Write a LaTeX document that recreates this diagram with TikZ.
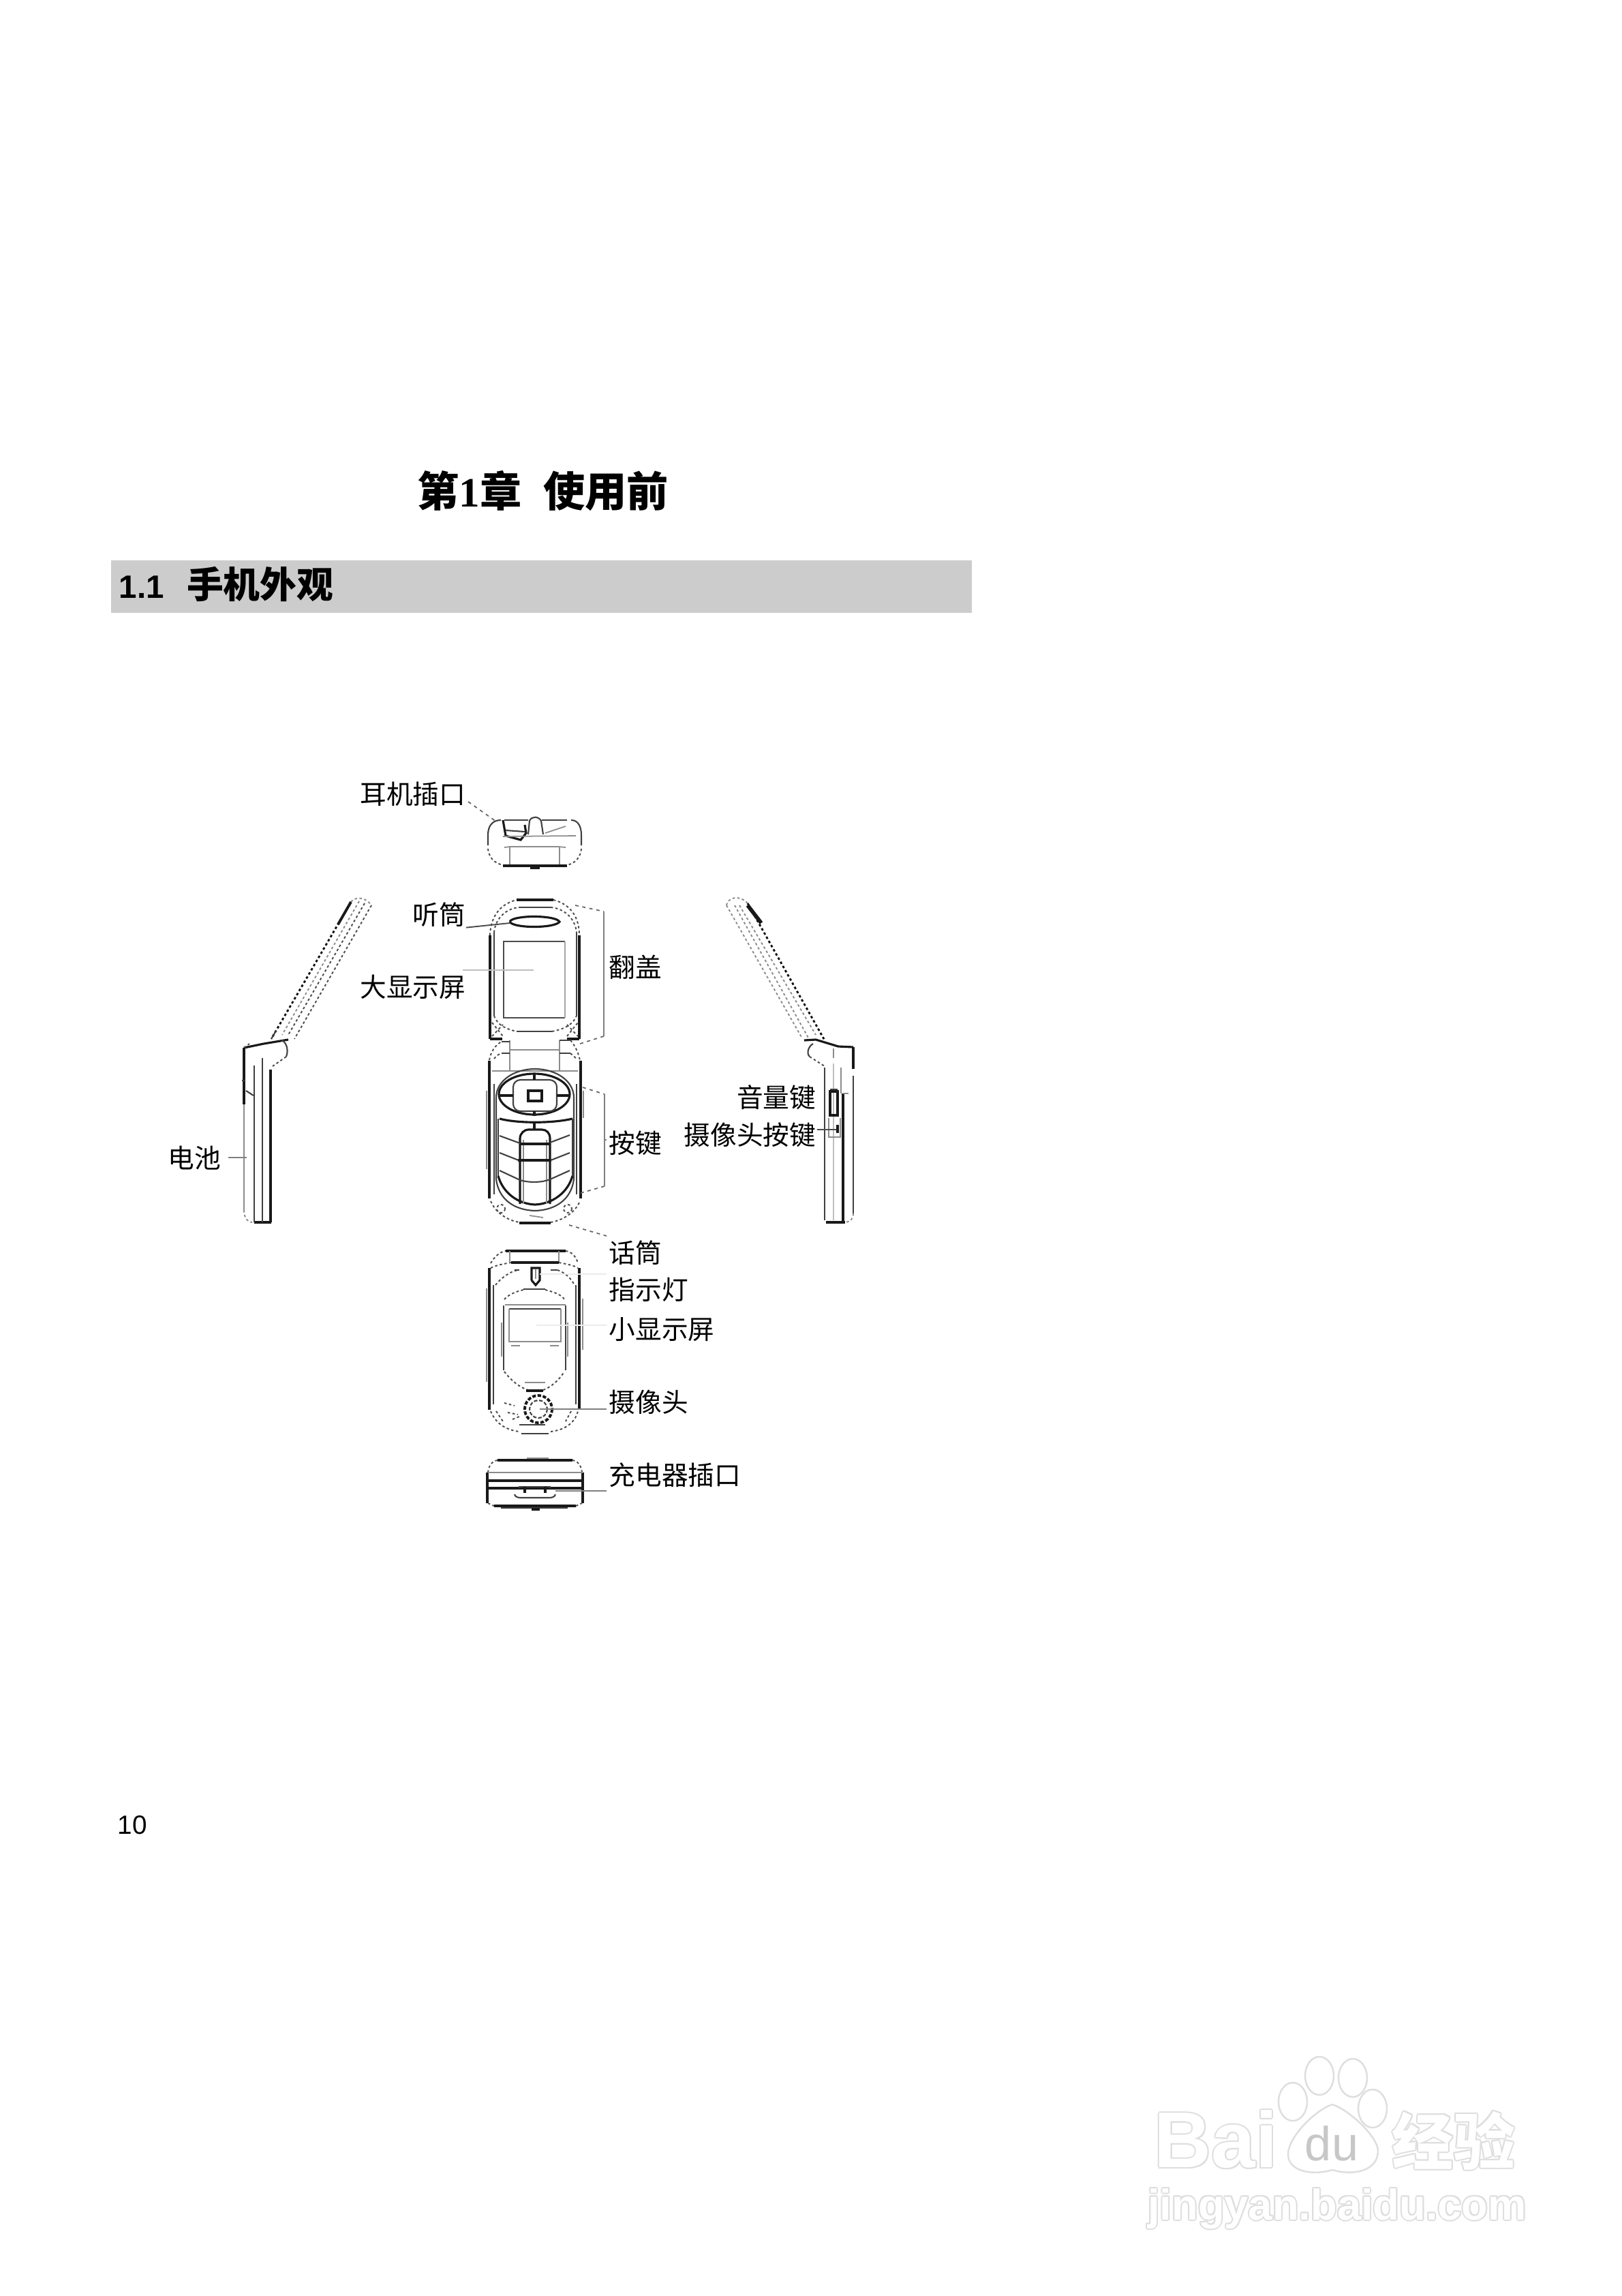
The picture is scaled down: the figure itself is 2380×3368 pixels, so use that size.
\documentclass[tikz,border=0pt]{standalone}
\usepackage{fontspec}
\setmainfont{Liberation Sans}
\newfontfamily\cjk{Noto Sans CJK SC}
\newfontfamily\serifnum{Liberation Serif}
\tikzset{
  lbl/.style={inner sep=0pt, font=\cjk\fontsize{11pt}{12pt}\selectfont},
  heavy/.style={line width=0.9pt, black!90},
  body/.style={line width=0.6pt, black!75},
  soft/.style={line width=0.5pt, black!45},
  pix/.style={line width=0.55pt, black!70, dash pattern=on 1pt off 1pt},
  lead/.style={line width=0.55pt, black!50},
  faint/.style={line width=0.4pt, black!8},
  leaddash/.style={line width=0.5pt, black!60, dash pattern=on 1.4pt off 1.6pt},
  paw/.style={line width=0.7pt, black!13},
}
\newcommand{\wmtext}[4]{% name, position, font, text
  \foreach \dx/\dy in {-2/0,2/0,0/-2,0/2,-1.5/-1.5,1.5/1.5,-1.5/1.5,1.5/-1.5}
    \node[inner sep=0pt, text=black!13, font=#3] (#1a) at ($(#2)+(\dx,\dy)$) {#4};
  \node[inner sep=0pt, text=white, font=#3] (#1) at (#2) {#4};
}
\usetikzlibrary{calc}
\begin{document}
\begin{tikzpicture}[x=0.01cm, y=-0.01cm]
  \useasboundingbox (0,0) rectangle (2380,3368);

  % 标题
  \node[inner sep=0pt, anchor=west, font=\cjk\bfseries\fontsize{17.4pt}{20pt}\selectfont] (chaptitle) at (612,720)
    {第{\serifnum 1}章\hspace{9pt}使用前};
  \fill[black!20] (163,822) rectangle (1426,899);
  \node[inner sep=0pt, anchor=west, font=\bfseries\fontsize{13.5pt}{18pt}\selectfont] (sectitle) at (174,857)
    {1.1\hspace{9.5pt}{\cjk\fontsize{15.3pt}{18pt}\selectfont 手机外观}};
  \node[inner sep=0pt, anchor=west, font=\fontsize{11pt}{13pt}\selectfont] (pagenum) at (172,2677) {10};

  % 顶端（耳机插口）
  \draw[body] (716,1240) -- (716,1225) .. controls (716,1212) and (722,1203) .. (735,1203);
  \draw[body] (853,1240) -- (853,1225) .. controls (853,1212) and (848,1203) .. (838,1203);
  \draw[pix] (716,1245) .. controls (718,1262) and (730,1269) .. (745,1270);
  \draw[pix] (853,1245) .. controls (851,1262) and (840,1269) .. (825,1270);
  \draw[heavy] (738,1270) -- (832,1270);
  \draw[body] (740,1203) -- (775,1203) (795,1203) -- (832,1203);
  \draw[body] (775,1224) -- (777,1204) .. controls (780,1197) and (790,1197) .. (794,1204) -- (797,1224);
  \draw[heavy] (738,1203) -- (742,1226) -- (764,1232) -- (772,1222) -- (770,1210);
  \draw[body] (742,1218) -- (770,1220);
  \draw[soft] (800,1222) -- (830,1212);
  \draw[soft] (738,1227) -- (845,1226);
  \draw[soft] (740,1243) -- (748,1242) -- (820,1242) -- (830,1243);
  \draw[soft] (748,1242) -- (748,1268) (821,1242) -- (821,1268);
  \draw[heavy] (778,1273) -- (792,1273);

  % 翻盖
  \draw[heavy] (719,1524) -- (719,1372);
  \draw[pix] (719,1372) .. controls (720,1340) and (738,1325) .. (758,1320);
  \draw[heavy, line width=1.3pt] (758,1320) -- (812,1320);
  \draw[pix] (812,1320) .. controls (832,1325) and (850,1340) .. (850,1372);
  \draw[heavy] (850,1372) -- (850,1524);
  \draw[body] (725,1490) -- (725,1368);
  \draw[pix] (725,1368) .. controls (727,1345) and (745,1332) .. (762,1331);
  \draw[body] (762,1331) -- (808,1331);
  \draw[pix] (808,1331) .. controls (825,1332) and (844,1345) .. (846,1368);
  \draw[body] (846,1368) -- (846,1490);
  \draw[heavy] (748,1352) .. controls (752,1342) and (815,1342) .. (821,1352) .. controls (815,1362) and (752,1362) .. (748,1352);
  \draw[line width=0.8pt, black!70] (829,1381) -- (739,1381) -- (739,1493) -- (829,1493);
  \draw[soft, black!35] (829,1381) -- (829,1493);
  \draw[pix] (725,1490) .. controls (730,1505) and (745,1510) .. (758,1513);
  \draw[body] (758,1513) -- (810,1513);
  \draw[pix] (810,1513) .. controls (825,1510) and (840,1505) .. (846,1490);
  \draw[pix] (722,1500) -- (738,1520) (722,1520) -- (738,1503) (832,1520) -- (848,1500) (832,1503) -- (848,1520);
  \draw[heavy] (719,1524) -- (737,1524) (832,1524) -- (850,1524);

  % 铰链
  \draw[soft] (748,1526) -- (748,1570) (821,1526) -- (821,1570);
  \draw[soft] (748,1540) -- (821,1540);
  \draw[pix] (718,1555) .. controls (720,1542) and (728,1532) .. (736,1528);
  \draw[body] (736,1528) -- (748,1528) (821,1526) -- (837,1526);
  \draw[pix] (837,1526) .. controls (843,1533) and (848,1542) .. (851,1555);
  \draw[pix] (725,1553) .. controls (728,1549) and (732,1546) .. (736,1545);
  \draw[body] (736,1545) -- (748,1545) (821,1545) -- (837,1545);
  \draw[pix] (837,1545) -- (846,1553);

  % 键盘部分
  \draw[heavy, line width=1.2pt] (718,1556) -- (718,1758) (852,1556) -- (852,1758);
  \draw[soft] (714,1600) -- (714,1715) (856,1600) -- (856,1640);
  \draw[body] (725,1590) -- (725,1752) (846,1590) -- (846,1752);
  \draw[soft] (722,1571) -- (848,1571);
  \draw[pix] (720,1762) .. controls (728,1780) and (745,1790) .. (762,1793);
  \draw[heavy, line width=1.1pt] (762,1794) -- (808,1794);
  \draw[pix] (808,1793) .. controls (825,1790) and (843,1780) .. (851,1762);
  \draw[body] (728,1730) -- (728,1610) .. controls (728,1585) and (755,1568) .. (785,1568) .. controls (815,1568) and (842,1585) .. (842,1610) -- (842,1730);
  \draw[body] (728,1730) .. controls (732,1760) and (755,1775) .. (785,1776) .. controls (815,1775) and (838,1760) .. (842,1730);
  \draw[heavy] (784,1605) ellipse [x radius=52, y radius=30];
  \draw[body, rounded corners=3pt] (753,1584) rectangle (817,1630);
  \draw[heavy, line width=1.2pt] (775,1600) rectangle (795,1615);
  \draw[heavy] (733,1607) -- (753,1607) (817,1607) -- (837,1607);
  \draw[heavy] (784,1576) -- (784,1584) (784,1630) -- (784,1637);
  % 数字键
  \draw[heavy] (733,1641) .. controls (760,1648) and (810,1648) .. (840,1641);
  \draw[body] (731,1641) -- (731,1725) (840,1641) -- (840,1725);
  \draw[heavy] (731,1725) .. controls (738,1750) and (760,1766) .. (785,1767) .. controls (810,1766) and (833,1750) .. (840,1725);
  \draw[heavy] (784,1647) -- (784,1657);
  \draw[heavy] (763,1766) -- (763,1670) .. controls (763,1662) and (770,1657) .. (775,1657) -- (795,1657) .. controls (802,1657) and (807,1662) .. (807,1670) -- (807,1766);
  \draw[soft] (768,1766) -- (768,1672) (802,1766) -- (802,1672);
  \draw[heavy] (763,1678) -- (807,1678);
  \draw[heavy, line width=1.1pt] (760,1702) -- (809,1702);
  \draw[body] (733,1666) -- (763,1677) (807,1676) -- (836,1665);
  \draw[body] (733,1691) -- (761,1702) (808,1702) -- (836,1691);
  \draw[body] (733,1717) -- (763,1731) .. controls (775,1735) and (795,1735) .. (807,1730) -- (836,1717);
  \draw[pix] (735,1773) circle [radius=6] (833,1773) circle [radius=6];
  \draw[soft] (777,1783) -- (797,1786);

  % 背面
  \draw[pix] (720,1853) .. controls (726,1842) and (735,1836) .. (742,1835);
  \draw[heavy] (742,1835) -- (830,1835);
  \draw[pix] (830,1835) .. controls (838,1836) and (845,1842) .. (848,1853);
  \draw[soft] (748,1835) -- (748,1851) (820,1835) -- (820,1851);
  \draw[pix] (720,1860) .. controls (728,1856) and (738,1854) .. (750,1852);
  \draw[heavy] (750,1852) -- (820,1852);
  \draw[pix] (820,1852) .. controls (830,1854) and (842,1856) .. (848,1860);
  \draw[heavy, line width=1pt] (718,1860) -- (718,2068) (850,1860) -- (850,2068);
  \draw[soft] (714,1890) -- (714,2027) (855,1905) -- (855,1980);
  \draw[body] (724,1885) -- (724,2060) (845,1885) -- (845,2060);
  \draw[pix] (727,1885) .. controls (735,1875) and (748,1865) .. (760,1863);
  \draw[body] (755,1863) -- (762,1863) (808,1863) -- (818,1863);
  \draw[pix] (818,1863) .. controls (828,1866) and (838,1875) .. (843,1885);
  \draw[heavy] (780,1878) -- (780,1860) -- (792,1860) -- (792,1878) -- (786,1885) -- (780,1878);
  \draw[soft] (786,1862) -- (786,1876);
  \draw[pix] (740,1906) .. controls (745,1900) and (755,1895) .. (768,1892);
  \draw[body] (768,1891) -- (800,1891);
  \draw[pix] (800,1892) .. controls (813,1895) and (825,1900) .. (828,1906);
  \draw[body] (739,1915) -- (739,2010) (830,1915) -- (830,2010);
  \draw[soft] (736,1940) -- (736,1990) (833,1940) -- (833,1990);
  \draw[soft] (741,1914) -- (830,1914);
  \draw[body] (747,1920) -- (823,1920);
  \draw[soft] (747,1920) -- (747,1968) -- (823,1968) -- (823,1920);
  \draw[soft] (750,1974) -- (763,1974) (807,1974) -- (820,1974);
  \draw[pix] (740,2012) .. controls (750,2025) and (762,2035) .. (775,2039);
  \draw[heavy] (772,2040) -- (797,2040);
  \draw[pix] (797,2039) .. controls (808,2035) and (820,2025) .. (828,2012);
  \draw[soft] (770,2028) -- (800,2028);
  \draw[heavy, line width=1.1pt, dash pattern=on 1.5pt off 0.7pt] (790,2067) circle [radius=20];
  \draw[body, dash pattern=on 1.5pt off 0.7pt] (790,2067) circle [radius=13];
  \draw[pix] (740,2058) -- (755,2062) (745,2072) -- (760,2075) (752,2082) -- (762,2078);
  \draw[pix] (720,2070) .. controls (728,2090) and (745,2098) .. (762,2100);
  \draw[body] (765,2103) -- (805,2103);
  \draw[pix] (808,2100) .. controls (825,2098) and (843,2090) .. (848,2070);
  \draw[pix] (728,2070) -- (738,2085) (838,2070) -- (830,2085);
  \draw[body] (762,2090) -- (800,2090);

  % 底端（充电器插口）
  \draw[pix] (716,2160) .. controls (717,2150) and (722,2143) .. (730,2142);
  \draw[heavy] (730,2142) -- (840,2142);
  \draw[pix] (840,2142) .. controls (848,2143) and (853,2150) .. (854,2160);
  \draw[soft] (773,2139) -- (805,2139);
  \draw[heavy] (715,2160) -- (715,2205) (855,2160) -- (855,2205);
  \draw[soft] (716,2160) -- (855,2160);
  \draw[heavy] (716,2172) -- (855,2172);
  \draw[heavy] (716,2183) -- (855,2183);
  \draw[body] (762,2183) -- (762,2181) -- (807,2181) -- (807,2183);
  \draw[body] (755,2192) .. controls (756,2196) and (760,2197) .. (765,2197) -- (805,2197) .. controls (810,2197) and (814,2196) .. (815,2192);
  \draw[heavy] (770,2181) -- (770,2190) (800,2181) -- (800,2190);
  \draw[pix] (716,2205) -- (725,2209);
  \draw[heavy] (725,2209) -- (845,2209);
  \draw[pix] (845,2209) -- (854,2205);
  \draw[body] (735,2212) -- (833,2212);
  \draw[heavy] (780,2214) -- (792,2214);

  % 左侧面
  \draw[pix, black!95, line width=0.8pt] (515,1323) -- (398,1524);
  \draw[heavy, line width=1.1pt] (515,1323) -- (496,1356);
  \draw[body] (398,1524) -- (405,1512);
  \draw[pix] (535,1325) -- (423,1518);
  \draw[pix, black!45] (527,1322) -- (414,1518);
  \draw[pix] (545,1328) -- (432,1524);
  \draw[pix, black!45] (515,1323) .. controls (520,1316) and (535,1314) .. (545,1328);
  \draw[heavy] (358,1537) -- (387,1531) -- (423,1525);
  \draw[pix] (358,1537) -- (366,1531);
  \draw[body] (413,1526) .. controls (420,1528) and (424,1540) .. (420,1550);
  \draw[pix] (420,1550) -- (400,1564);
  \draw[heavy] (358,1537) -- (358,1620);
  \draw[soft] (358,1620) -- (358,1775);
  \draw[pix, black!45] (358,1775) .. controls (358,1785) and (362,1792) .. (370,1793);
  \draw[heavy] (373,1793) -- (398,1793);
  \draw[heavy, line width=1.1pt] (397,1569) -- (397,1793);
  \draw[body] (373,1563) -- (373,1793);
  \draw[body] (385,1552) -- (385,1793);
  \draw[body] (355,1585) -- (359,1585) (361,1600) -- (372,1607);

  % 右侧面
  \draw[pix, black!95, line width=0.8pt] (1097,1325) -- (1210,1526);
  \draw[heavy, line width=1.6pt] (1097,1328) -- (1117,1354);
  \draw[pix, black!45] (1066,1328) -- (1177,1523);
  \draw[pix, black!45] (1078,1328) -- (1187,1524);
  \draw[pix, black!45] (1085,1328) -- (1197,1518);
  \draw[pix, black!45] (1066,1328) .. controls (1068,1316) and (1085,1312) .. (1097,1325);
  \draw[heavy] (1180,1526) -- (1197,1525) -- (1230,1535) -- (1252,1536);
  \draw[body] (1193,1531) .. controls (1186,1535) and (1183,1545) .. (1188,1550);
  \draw[pix] (1188,1550) -- (1210,1564);
  \draw[heavy, line width=1.4pt] (1252,1536) -- (1252,1568);
  \draw[body] (1252,1578) -- (1252,1780);
  \draw[pix, black!45] (1252,1780) .. controls (1252,1788) and (1248,1792) .. (1240,1793);
  \draw[heavy] (1212,1793) -- (1240,1793);
  \draw[body] (1210,1566) -- (1210,1790);
  \draw[soft, black!25] (1223,1560) -- (1223,1790);
  \draw[soft] (1223,1538) -- (1223,1552);
  \draw[soft] (1234,1566) -- (1234,1604);
  \draw[heavy, line width=1.1pt] (1237,1604) -- (1237,1793);
  \draw[heavy, line width=1.1pt] (1218,1601) rectangle (1229,1636);
  \draw[body] (1229,1598) -- (1218,1598);
  \draw[soft] (1216,1640) -- (1216,1668) -- (1233,1668) -- (1233,1640);
  \draw[heavy, line width=1.1pt] (1229,1650) -- (1229,1662);
  \draw[soft] (1237,1604) -- (1245,1604);

  % 引出线
  \coordinate (earend) at (728,1205);
  \coordinate (recvend) at (748,1354);
  \coordinate (bigend) at (783,1423);
  \coordinate (battend) at (362,1698);
  \coordinate (ledend) at (792,1869);
  \coordinate (smallend) at (787,1944);
  \coordinate (camend) at (792,2067);
  \coordinate (chgend) at (815,2187);
  \coordinate (micend) at (835,1797);
  \coordinate (volend) at (1227,1657);
  \coordinate (lida) at (844,1328);
  \coordinate (lidb) at (886,1337);
  \coordinate (lidc) at (886,1520);
  \coordinate (lidd) at (848,1532);
  \coordinate (keya) at (855,1595);
  \coordinate (keyb) at (887,1605);
  \coordinate (keyc) at (887,1740);
  \coordinate (keyd) at (852,1750);

  % 标注
  \node[lbl, anchor=east] (earlbl) at (684,1165) {耳机插口};
  \node[lbl, anchor=east] (recvlbl) at (684,1342) {听筒};
  \node[lbl, anchor=east] (biglbl) at (684,1448) {大显示屏};
  \node[lbl, anchor=west] (lidlbl) at (893,1419) {翻盖};
  \node[lbl, anchor=west] (keylbl) at (893,1677) {按键};
  \node[lbl, anchor=east] (vollbl) at (1198,1610) {音量键};
  \node[lbl, anchor=east] (cambtn) at (1198,1665) {摄像头按键};
  \node[lbl, anchor=east] (battlbl) at (325,1699) {电池};
  \node[lbl, anchor=west] (miclbl) at (893,1838) {话筒};
  \node[lbl, anchor=west] (ledlbl) at (893,1892) {指示灯};
  \node[lbl, anchor=west] (smalllbl) at (893,1950) {小显示屏};
  \node[lbl, anchor=west] (camlbl) at (893,2057) {摄像头};
  \node[lbl, anchor=west] (chglbl) at (893,2164) {充电器插口};

  \draw[leaddash] (earlbl.east) ++(3,11) -- (earend);
  \draw[lead, black!70] (recvlbl.south east) -- (recvend);
  \draw[faint, black!25] (679,1423) -- (bigend);
  \draw[lead] (battlbl.east) ++(10,-1) -- (battend);
  \draw[faint] (ledend) -- (890,1869);
  \draw[faint] (smallend) -- (890,1944);
  \draw[lead] (camend) -- (890,2067);
  \draw[lead] (chgend) -- (890,2187);
  \draw[leaddash] (micend) -- (890,1813);
  \draw[lead, black!70] (cambtn.east) ++(1,-8) -- (volend);
  \draw[leaddash] (lida) -- (lidb);
  \draw[lead] (lidb) -- (lidc);
  \draw[leaddash] (lidc) -- (lidd);
  \draw[leaddash] (keya) -- (keyb);
  \draw[lead] (keyb) -- (keyc);
  \draw[leaddash] (keyc) -- (keyd);
  \draw[lead] (887,1672) -- (890,1672);

  % 水印
  \wmtext{wmbai}{1784,3138}{\bfseries\fontsize{33pt}{36pt}\selectfont}{Bai}
  \wmtext{wmjy}{2133,3140}{\cjk\bfseries\fontsize{25.6pt}{28pt}\selectfont}{经验}
  \wmtext{wmurl}{1962,3240}{\bfseries\fontsize{18pt}{20pt}\selectfont}{jingyan.baidu.com}
  \draw[paw] (1897,3083) ellipse [x radius=21, y radius=28];
  \draw[paw] (1936,3045) ellipse [x radius=21, y radius=28];
  \draw[paw] (1985,3048) ellipse [x radius=21, y radius=28];
  \draw[paw] (2014,3093) ellipse [x radius=21, y radius=28];
  \draw[paw, fill=white] (1955,3087) .. controls (1930,3095) and (1890,3135) .. (1890,3160)
    .. controls (1890,3185) and (1925,3192) .. (1955,3183)
    .. controls (1985,3192) and (2022,3185) .. (2022,3155)
    .. controls (2022,3135) and (1980,3095) .. (1955,3087);
  \node[inner sep=0pt, text=black!22, font=\fontsize{20pt}{22pt}\selectfont] (wmdu) at (1954,3144) {du};
\end{tikzpicture}
\end{document}
